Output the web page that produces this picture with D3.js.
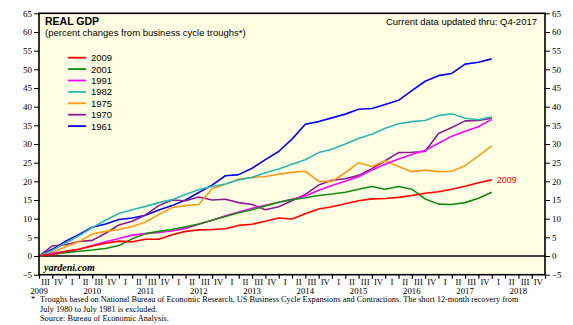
<!DOCTYPE html>
<html>
<head>
<meta charset="utf-8">
<script src="https://cdn.jsdelivr.net/npm/d3@7/dist/d3.min.js"></script>
<style>
body{margin:0;background:#fff}
svg text{font-family:"Liberation Serif","Times New Roman",serif}
.sans{font-family:"Liberation Sans",Arial,sans-serif !important}
</style>
</head>
<body>
<div id="chart"></div>
<script>
// quarters since trough (0 = trough quarter), percent change from trough
var cycles = ["2009","2001","1991","1982","1975","1970","1961"];
var colors = ["#ff0000","#138a13","#ff00ff","#2bb8b0","#ff9a1a","#8e1a8e","#0000ff"];

var c2009 = [0,0.4,1.3,1.8,2.7,3.4,4.0,3.8,4.5,4.5,5.7,6.6,7.0,7.1,7.3,8.2,8.5,9.3,10.2,9.9,11.3,12.6,13.2,14.0,14.8,15.3,15.4,15.7,16.2,16.8,17.2,17.9,18.7,19.6,20.4];
var c2001 = [0,0.4,0.9,1.3,1.6,2.0,2.8,4.6,6.0,6.6,7.1,7.8,8.6,9.6,10.6,11.6,12.4,13.4,14.4,15.1,15.6,16.2,16.6,17.1,17.9,18.6,17.9,18.6,17.9,15.3,13.9,13.8,14.3,15.5,17.1];
var c1991 = [0,0.7,1.2,1.8,2.8,3.8,4.7,5.6,6.0,6.3,6.7,7.4,8.5,9.6,10.8,11.8,12.8,13.6,14.4,15.2,16.1,17.6,18.9,20.0,21.2,23.0,24.6,26.0,27.2,28.3,30.2,32.1,33.4,34.6,36.6];
var c1982 = [0,1.5,3.5,5.4,7.6,9.6,11.4,12.4,13.3,14.3,15.1,16.5,17.8,18.6,19.3,20.4,21.1,22.3,23.3,24.6,25.8,27.7,28.6,30.0,31.5,32.6,34.2,35.4,36.0,36.3,37.6,38.1,36.9,36.5,37.3];
var c1975 = [0,1.0,2.5,3.8,5.9,6.6,7.1,7.9,9.1,11.1,13.0,13.5,13.8,18.0,19.2,20.6,21.0,21.3,21.9,22.4,22.7,20.0,20.0,22.3,25.0,24.0,25.5,24.0,22.6,23.0,22.6,22.7,24.2,26.8,29.5];
var c1970 = [0,2.7,3.0,3.9,4.2,6.1,8.3,9.3,11.0,13.5,15.0,14.8,15.8,15.0,15.2,14.3,13.8,12.4,13.2,14.8,16.5,19.0,20.3,20.7,21.6,23.4,25.5,27.7,27.8,28.0,32.8,34.4,36.2,36.3,36.9];
var c1961 = [0,1.8,4.0,5.8,7.7,8.6,9.8,10.2,10.9,12.3,13.5,15.0,17.0,19.0,21.5,21.8,23.5,25.8,28.0,31.3,35.3,36.0,37.0,38.0,39.3,39.5,40.6,41.7,44.3,46.8,48.3,48.9,51.4,51.9,52.8];
var seriesData = [c2009,c2001,c1991,c1982,c1975,c1970,c1961];

var quarterNames = ["I","II","III","IV"];
var years = [2009,2010,2011,2012,2013,2014,2015,2016,2017,2018];
var yTicks = [-5,0,5,10,15,20,25,30,35,40,45,50,55,60,65];

var footnotes = [
  "Troughs based on National Bureau of Economic Research, US Business Cycle Expansions and Contractions. The short 12-month recovery from",
  "July 1980 to July 1981 is excluded.",
  "Source: Bureau of Economic Analysis."
];

var width = 573, height = 325;
var svg = d3.select("#chart").append("svg")
    .attr("width", width)
    .attr("height", height);

// 38 quarter bands: 2009 III .. 2018 IV
var nQ = 38;
var x = d3.scaleLinear().domain([0, nQ]).range([39, 545]);
var y = d3.scaleLinear().domain([-5, 65]).range([274.7, 13.3]);

svg.append("rect")
    .attr("x", x(0)).attr("y", y(65))
    .attr("width", x(nQ) - x(0)).attr("height", y(-5) - y(65))
    .attr("fill", "#ffffe3");

// zero line
svg.append("line")
    .attr("x1", x(0)).attr("x2", x(nQ))
    .attr("y1", y(0)).attr("y2", y(0))
    .attr("stroke", "#000").attr("stroke-width", 1.6);

var line = d3.line()
    .x((d, i) => x(i))
    .y(d => y(d));

// draw oldest first so 2009 stays on top
for (var k = seriesData.length - 1; k >= 0; k--) {
  svg.append("path")
      .datum(seriesData[k])
      .attr("d", line)
      .attr("fill", "none")
      .attr("stroke", colors[k])
      .attr("stroke-width", 1.6)
      .attr("stroke-linejoin", "round");
}

// border
svg.append("rect")
    .attr("x", x(0)).attr("y", y(65))
    .attr("width", x(nQ) - x(0)).attr("height", y(-5) - y(65))
    .attr("fill", "none").attr("stroke", "#000").attr("stroke-width", 1.6);

// y axes
var yl = svg.append("g").attr("transform", "translate(" + x(0) + ",0)")
    .call(d3.axisLeft(y).tickValues(yTicks).tickSize(5).tickPadding(2));
var yr = svg.append("g").attr("transform", "translate(" + x(nQ) + ",0)")
    .call(d3.axisRight(y).tickValues(yTicks).tickSize(5).tickPadding(2));
[yl, yr].forEach(g => {
  g.select(".domain").remove();
  g.selectAll("text").attr("font-size", 9).attr("fill", "#000");
  g.selectAll("line").attr("stroke", "#000");
});

// x axis ticks and quarter labels
var xa = svg.append("g").attr("transform", "translate(0," + y(-5) + ")")
    .call(d3.axisBottom(x).tickValues(d3.range(0, nQ + 1)).tickSize(4).tickFormat(""));
xa.select(".domain").remove();
xa.selectAll("line").attr("stroke", "#000").attr("stroke-width", 1.2);

svg.append("g").selectAll("text")
    .data(d3.range(nQ))
    .enter().append("text")
    .attr("x", d => x(d + 0.5))
    .attr("y", 284.5)
    .attr("text-anchor", "middle")
    .attr("font-size", 8.8)
    .text(d => quarterNames[(d + 2) % 4]);

svg.append("g").selectAll("text")
    .data(years)
    .enter().append("text")
    .attr("x", d => x((d - 2009) * 4))
    .attr("y", 294)
    .attr("text-anchor", "middle")
    .attr("font-size", 8.8)
    .text(d => d);

// titles
svg.append("text").attr("class", "sans")
    .attr("x", 45).attr("y", 24.5)
    .attr("font-size", 10.5).attr("font-weight", "bold")
    .text("REAL GDP");
svg.append("text").attr("class", "sans")
    .attr("x", 45).attr("y", 35.5)
    .attr("font-size", 9.5)
    .text("(percent changes from business cycle troughs*)");
svg.append("text").attr("class", "sans")
    .attr("x", 537).attr("y", 24.5)
    .attr("text-anchor", "end")
    .attr("font-size", 9.5)
    .text("Current data updated thru: Q4-2017");

// legend
var leg = svg.append("g").selectAll("g")
    .data(cycles)
    .enter().append("g")
    .attr("transform", (d, i) => "translate(0," + (57.7 + i * 11.4) + ")");
leg.append("line")
    .attr("x1", 68).attr("x2", 86)
    .attr("stroke", (d, i) => colors[i]).attr("stroke-width", 1.8);
leg.append("text").attr("class", "sans")
    .attr("x", 91).attr("y", 3.5)
    .attr("font-size", 9.5)
    .text(d => d);

// end label for current cycle
svg.append("text").attr("class", "sans")
    .attr("x", x(c2009.length - 1) + 5)
    .attr("y", y(c2009[c2009.length - 1]) + 3)
    .attr("font-size", 9)
    .attr("fill", "#ff0000")
    .text("2009");

svg.append("text")
    .attr("x", 44).attr("y", 271)
    .attr("font-size", 10).attr("font-weight", "bold").attr("font-style", "italic")
    .text("yardeni.com");

// footnotes
svg.append("text").attr("x", 31).attr("y", 302).attr("font-size", 8.3).text("*");
svg.append("g").selectAll("text")
    .data(footnotes)
    .enter().append("text")
    .attr("x", 40)
    .attr("y", (d, i) => 302 + i * 9.5)
    .attr("font-size", 8.3)
    .text(d => d);
</script>
</body>
</html>
